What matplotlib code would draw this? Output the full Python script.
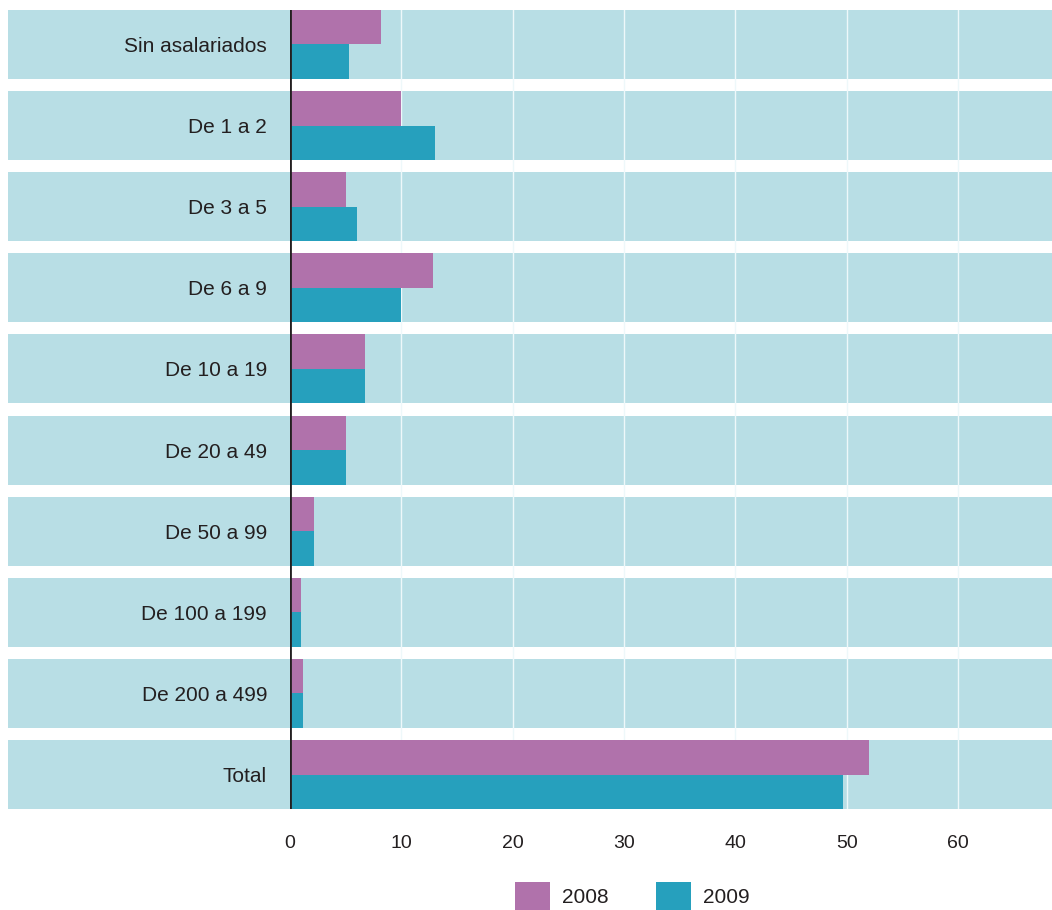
import matplotlib
matplotlib.use("Agg")
import matplotlib.pyplot as plt
from matplotlib.patches import Patch

categories = ["Sin asalariados", "De 1 a 2", "De 3 a 5", "De 6 a 9", "De 10 a 19",
              "De 20 a 49", "De 50 a 99", "De 100 a 199", "De 200 a 499", "Total"]
values_2008 = [8.2, 10.0, 5.0, 12.8, 6.7, 5.0, 2.2, 1.0, 1.2, 52.0]
values_2009 = [5.3, 13.0, 6.0, 10.0, 6.7, 5.0, 2.2, 1.0, 1.2, 49.7]
series_labels = ["2008", "2009"]
x_ticks = [0, 10, 20, 30, 40, 50, 60]

C2008 = "#b072ab"
C2009 = "#26a0bd"
BAND = "#b8dee5"
TXT = "#231f20"

plt.rcParams['font.family'] = ['Liberation Sans', 'DejaVu Sans']

W, H = 1052, 910
fig = plt.figure(figsize=(W / 100, H / 100), dpi=100)
ax_left, ax_right = 290, 1052
ax_top, ax_bottom = 10, 809
ax = fig.add_axes([ax_left / W, 1 - ax_bottom / H, (ax_right - ax_left) / W, (ax_bottom - ax_top) / H])

px_per_unit = (958 - 290) / 60.0
xmax = (ax_right - ax_left) / px_per_unit
band_left = (8 - ax_left) / px_per_unit

n = len(categories)
band_h = 0.85
ypos = list(range(n))

# background bands (extend into label area)
ax.barh(ypos, [xmax - band_left] * n, left=band_left, height=band_h,
        color=BAND, zorder=0.2, clip_on=False, linewidth=0)

half = band_h / 2
ax.barh([y - half / 2 for y in ypos], values_2008, height=half, color=C2008,
        zorder=2, linewidth=0, label=series_labels[0])
ax.barh([y + half / 2 for y in ypos], values_2009, height=half, color=C2009,
        zorder=2, linewidth=0, label=series_labels[1])

ax.set_xlim(0, xmax)
ax.set_ylim(n - 1 + half, -half)

ax.set_axisbelow(True)
ax.set_xticks(x_ticks)
ax.set_xticklabels([str(t) for t in x_ticks])
ax.grid(axis='x', color='#eef8fa', linewidth=1.0)
ax.grid(axis='y', visible=False)

ax.set_yticks(ypos)
ax.set_yticklabels(categories)

ax.tick_params(axis='both', length=0, colors=TXT)
ax.tick_params(axis='x', labelsize=14, pad=19)
ax.tick_params(axis='y', labelsize=15, pad=16.5)

for s in ax.spines.values():
    s.set_visible(False)
ax.patch.set_visible(False)

ax.axvline(0, color=TXT, linewidth=2.0, zorder=3)

handles = [Patch(facecolor=C2008, edgecolor='none'), Patch(facecolor=C2009, edgecolor='none')]
fig.legend(handles, series_labels, loc='center', bbox_to_anchor=(0.601, 1 - 896 / H),
           ncol=2, frameon=False, fontsize=15, handlelength=1.68, handleheight=1.75,
           handletextpad=0.58, columnspacing=2.3, borderpad=0, borderaxespad=0,
           labelcolor=TXT)

fig.savefig("out.png", dpi=100)
